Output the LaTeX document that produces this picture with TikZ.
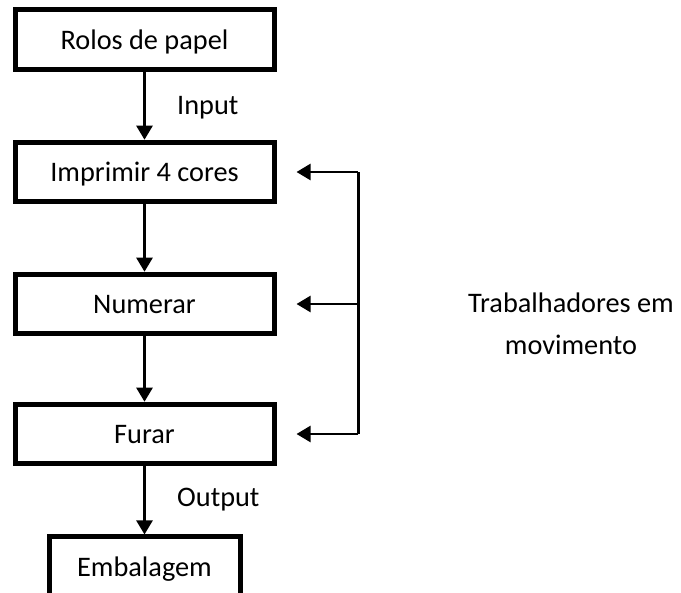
\documentclass[tikz,border=0pt]{standalone}
\usepackage{fontspec}
\setmainfont{Carlito}
\usetikzlibrary{arrows.meta}
\begin{document}
\begin{tikzpicture}[x=1pt,y=-1pt,
  stepbox/.style={draw, line width=5pt, minimum width=259pt, inner sep=0pt,
    text height=0.85em, text depth=0.206em},
  flow/.style={line width=2.5pt, -{Triangle[width=16pt,length=14pt]}},
  lbl/.style={inner sep=0pt}
]
\useasboundingbox (0,0) rectangle (681,593);
\fontsize{28.3}{34}\selectfont

% main column of process steps
\node[stepbox, minimum height=60pt]   (rolos)  at (144.5,40)  {Rolos de papel};
\node[stepbox, minimum height=59.5pt] (impr)   at (144.5,172) {Imprimir 4 cores};
\node[stepbox, minimum height=59.5pt] (numer)  at (144.5,304) {Numerar};
\node[stepbox, minimum height=59.5pt] (furar)  at (144.5,434) {Furar};
\node[stepbox, minimum height=60pt, minimum width=191pt] (embal) at (144.5,567) {Embalagem};

\draw[flow] (rolos) -- (impr);
\draw[flow] (impr) -- (numer);
\draw[flow] (numer) -- (furar);
\draw[flow] (furar) -- (embal);

\node[lbl, anchor=base west] (inlbl)  at (177,115)   {Input};
\node[lbl, anchor=base west] (outlbl) at (177,506.5) {Output};

% workers moving between the three stations
\coordinate (busT) at (358.3,172);
\coordinate (busM) at (358.3,304);
\coordinate (busB) at (358.3,434);
\draw[line width=2.5pt] (busT) -- (busB);
\draw[flow] (busT) -- ([xshift=20pt]impr.east);
\draw[flow] (busM) -- ([xshift=20pt]numer.east);
\draw[flow] (busB) -- ([xshift=20pt]furar.east);

% the base anchor of a two-line node sits on its last line
\node[lbl, align=center, anchor=base, font={\fontsize{28.3}{42}\selectfont}]
  (workers) at (571,355) {Trabalhadores em\\movimento};
\end{tikzpicture}
\end{document}
